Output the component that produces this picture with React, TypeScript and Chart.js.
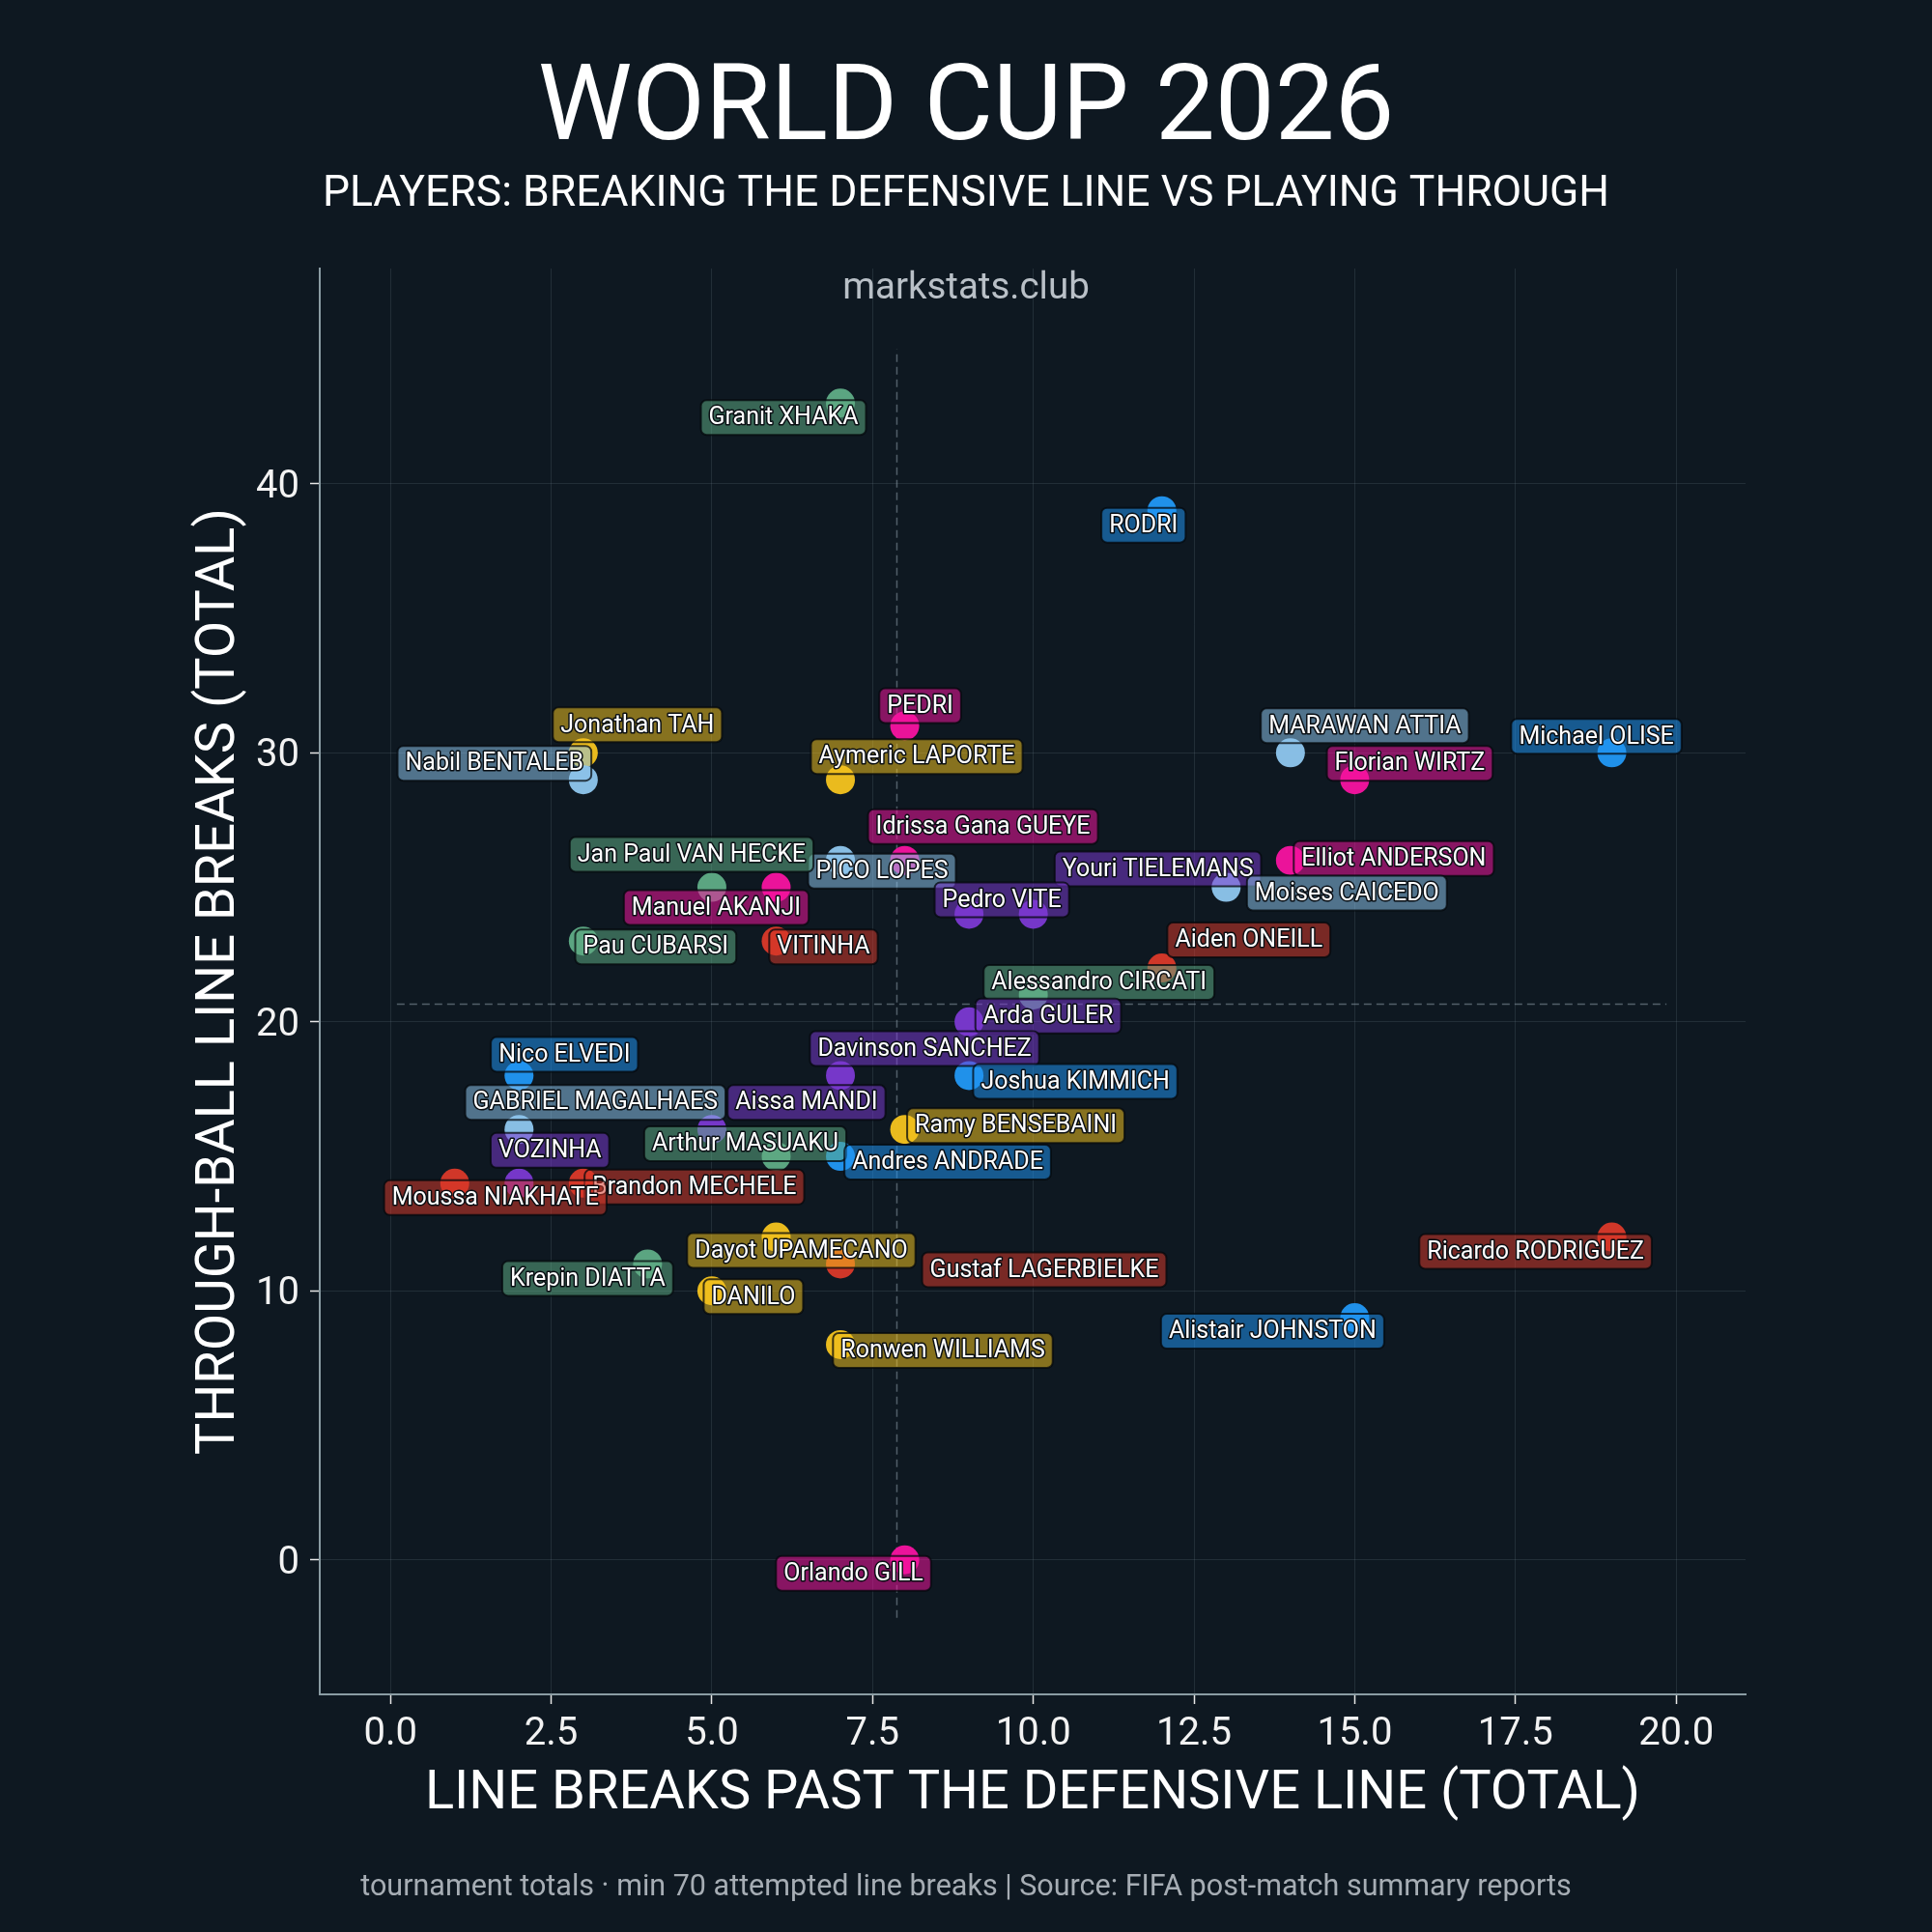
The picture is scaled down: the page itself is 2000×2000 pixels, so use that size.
import React, { useEffect, useRef } from 'react';
import { Chart, registerables } from 'chart.js';

Chart.register(...registerables);

// ---------------- DATA ----------------
const PLAYERS = [
  'Granit XHAKA', 'RODRI', 'PEDRI', 'Jonathan TAH', 'Nabil BENTALEB', 'Aymeric LAPORTE',
  'MARAWAN ATTIA', 'Florian WIRTZ', 'Michael OLISE', 'Idrissa Gana GUEYE', 'PICO LOPES',
  'Jan Paul VAN HECKE', 'Manuel AKANJI', 'Youri TIELEMANS', 'Pedro VITE', 'Elliot ANDERSON',
  'Moises CAICEDO', 'Pau CUBARSI', 'VITINHA', 'Aiden ONEILL', 'Alessandro CIRCATI',
  'Arda GULER', 'Davinson SANCHEZ', 'Joshua KIMMICH', 'Nico ELVEDI', 'GABRIEL MAGALHAES',
  'Aissa MANDI', 'Ramy BENSEBAINI', 'Arthur MASUAKU', 'Andres ANDRADE', 'VOZINHA',
  'Brandon MECHELE', 'Moussa NIAKHATE', 'Dayot UPAMECANO', 'Gustaf LAGERBIELKE',
  'Krepin DIATTA', 'DANILO', 'Ronwen WILLIAMS', 'Ricardo RODRIGUEZ', 'Alistair JOHNSTON',
  'Orlando GILL',
];

// line breaks past the defensive line (x)
const LINE_BREAKS = [
  7, 12, 8, 3, 3, 7, 14, 15, 19, 8, 7, 5, 6, 10, 9, 14, 13, 3, 6, 12, 10,
  9, 7, 9, 2, 2, 5, 8, 6, 7, 2, 3, 1, 6, 7, 4, 5, 7, 19, 15, 8,
];

// through-ball line breaks (y)
const THROUGH_BALL = [
  43, 39, 31, 30, 29, 29, 30, 29, 30, 26, 26, 25, 25, 24, 24, 26, 25, 23, 23, 22, 21,
  20, 18, 18, 18, 16, 16, 16, 15, 15, 14, 14, 14, 12, 11, 11, 10, 8, 12, 9, 0,
];

const GROUP = [
  'green', 'blue', 'pink', 'yellow', 'lightblue', 'yellow', 'lightblue', 'pink', 'blue', 'pink',
  'lightblue', 'green', 'pink', 'purple', 'purple', 'pink', 'lightblue', 'green', 'red', 'red',
  'green', 'purple', 'purple', 'blue', 'blue', 'lightblue', 'purple', 'yellow', 'green', 'blue',
  'purple', 'red', 'red', 'yellow', 'red', 'green', 'yellow', 'yellow', 'red', 'blue', 'pink',
];

const X_TICKS = [0, 2.5, 5, 7.5, 10, 12.5, 15, 17.5, 20];
const Y_TICKS = [0, 10, 20, 30, 40];

// extents of the mean reference lines (data units)
const V_LINE_Y = [-2.15, 45];
const H_LINE_X = [0.1, 19.85];

// ---------------- LAYOUT / STYLE ----------------
const PALETTE: Record<string, string> = {
  blue: '#2196f3',
  lightblue: '#8ec5ec',
  pink: '#f5139f',
  yellow: '#f4c21e',
  green: '#5fab85',
  red: '#d9382a',
  purple: '#7b38d0',
};

// label box centre offsets from the marker (px)
const LABEL_OFFSETS: [number, number][] = [
  [-59, 15], [-19, 15], [16, -21], [56, -29], [-92, -17], [79, -24],
  [77, -28], [57, -17], [-16, -17], [81, -35], [43, 11],
  [-21, -34], [-62, 21], [129, -47], [34, -15], [107, -2],
  [125, 6], [75, 6], [49, 6], [90, -29], [68, -13],
  [82, -6], [87, -28], [110, 6], [47, -22], [79, -28],
  [98, -28], [115, -4], [-32, -13], [111, 6], [32, -34],
  [115, 4], [42, 15], [26, 14], [211, 6],
  [-62, 15], [43, 6], [106, 6], [-79, 15], [-85, 14],
  [-53, 14],
];

const BG = '#0e1821';
const FONT = 'Roboto';

function rgba(hex: string, a: number) {
  const n = parseInt(hex.slice(1), 16);
  return `rgba(${(n >> 16) & 255},${(n >> 8) & 255},${n & 255},${a})`;
}

const mean = (arr: number[]) => arr.reduce((s, v) => s + v, 0) / arr.length;

const decorPlugin = {
  id: 'decor',
  beforeDatasetsDraw(chart: any) {
    const ctx = chart.ctx;
    ctx.save();
    ctx.fillStyle = '#b9c0c7';
    ctx.font = `38.5px ${FONT}`;
    ctx.textAlign = 'center';
    ctx.textBaseline = 'alphabetic';
    ctx.fillText('markstats.club', 1000, 309);
    ctx.restore();
  },
  afterDatasetsDraw(chart: any) {
    const ctx = chart.ctx;
    const meta = chart.getDatasetMeta(0);
    ctx.save();
    ctx.font = `25px ${FONT}`;
    ctx.textAlign = 'center';
    ctx.textBaseline = 'middle';
    PLAYERS.forEach((name, i) => {
      const el = meta.data[i];
      if (!el) return;
      const cx = el.x + LABEL_OFFSETS[i][0];
      const cy = el.y + LABEL_OFFSETS[i][1];
      const tw = ctx.measureText(name).width;
      const w = tw + 16;
      const h = 36;
      const color = PALETTE[GROUP[i]];
      ctx.beginPath();
      ctx.roundRect(cx - w / 2, cy - h / 2, w, h, 6);
      ctx.fillStyle = rgba(color, 0.53);
      ctx.fill();
      ctx.lineWidth = 2;
      ctx.strokeStyle = 'rgba(4,8,12,0.75)';
      ctx.stroke();
      ctx.lineJoin = 'round';
      ctx.lineWidth = 3;
      ctx.strokeStyle = '#0a0f14';
      ctx.strokeText(name, cx, cy + 1);
      ctx.fillStyle = '#ffffff';
      ctx.fillText(name, cx, cy + 1);
    });
    ctx.restore();
  },
  afterDraw(chart: any) {
    const ctx = chart.ctx;
    ctx.save();
    ctx.textAlign = 'center';
    ctx.textBaseline = 'alphabetic';
    ctx.fillStyle = '#ffffff';
    ctx.font = `110px ${FONT}`;
    ctx.fillText('WORLD CUP 2026', 1000, 144);
    ctx.font = `44.5px ${FONT}`;
    ctx.fillText('PLAYERS: BREAKING THE DEFENSIVE LINE VS PLAYING THROUGH', 1000, 213);

    const area = chart.chartArea;
    ctx.font = `56px ${FONT}`;
    ctx.fillText('LINE BREAKS PAST THE DEFENSIVE LINE (TOTAL)', (area.left + area.right) / 2, 1872);
    ctx.save();
    ctx.translate(242, (area.top + area.bottom) / 2);
    ctx.rotate(-Math.PI / 2);
    ctx.fillText('THROUGH-BALL LINE BREAKS (TOTAL)', 0, 0);
    ctx.restore();

    ctx.fillStyle = '#a6adb4';
    ctx.font = `30.5px ${FONT}`;
    ctx.fillText(
      'tournament totals · min 70 attempted line breaks | Source: FIFA post-match summary reports',
      1000,
      1962
    );
    ctx.restore();
  },
};

export default function App() {
  const ref = useRef<HTMLCanvasElement>(null);

  useEffect(() => {
    document.body.style.margin = '0';
    document.body.style.background = BG;
    if (!ref.current) return;

    const meanX = mean(LINE_BREAKS);
    const meanY = mean(THROUGH_BALL);

    const points = PLAYERS.map((_, i) => ({ x: LINE_BREAKS[i], y: THROUGH_BALL[i] }));
    const colors = GROUP.map((g) => rgba(PALETTE[g], 0.96));

    const gridCommon = {
      color: 'rgba(140,160,172,0.16)',
      lineWidth: 1,
      tickColor: '#e6e6e6',
      tickLength: 10,
      tickWidth: 1.5,
    };

    const chart = new Chart(ref.current, {
      type: 'scatter',
      data: {
        datasets: [
          {
            data: points,
            backgroundColor: colors,
            borderWidth: 0,
            pointRadius: 15,
            pointHoverRadius: 15,
            order: 0,
          },
          {
            data: [
              { x: meanX, y: V_LINE_Y[0] },
              { x: meanX, y: V_LINE_Y[1] },
            ],
            showLine: true,
            borderColor: 'rgba(150,165,178,0.5)',
            borderWidth: 1.5,
            borderDash: [8, 5],
            pointRadius: 0,
            order: 5,
          },
          {
            data: [
              { x: H_LINE_X[0], y: meanY },
              { x: H_LINE_X[1], y: meanY },
            ],
            showLine: true,
            borderColor: 'rgba(150,165,178,0.5)',
            borderWidth: 1.5,
            borderDash: [8, 5],
            pointRadius: 0,
            order: 5,
          },
        ],
      } as any,
      options: {
        responsive: false,
        animation: false,
        devicePixelRatio: 1,
        layout: { padding: { left: 0, right: 193, top: 278, bottom: 0 } },
        plugins: {
          legend: { display: false },
          tooltip: { enabled: false },
        },
        events: [],
        scales: {
          x: {
            type: 'linear',
            min: -1.1,
            max: 21.08,
            afterBuildTicks: (s: any) => {
              s.ticks = X_TICKS.map((v) => ({ value: v }));
            },
            afterFit: (s: any) => {
              s.height = 246;
            },
            ticks: {
              color: '#f2f2f2',
              font: { family: FONT, size: 40 },
              padding: 8,
              autoSkip: false,
              maxRotation: 0,
              callback: (v: any) => Number(v).toFixed(1),
            },
            grid: gridCommon,
            border: { color: '#8a9ca3', width: 2 },
          },
          y: {
            type: 'linear',
            min: -5,
            max: 48,
            afterBuildTicks: (s: any) => {
              s.ticks = Y_TICKS.map((v) => ({ value: v }));
            },
            afterFit: (s: any) => {
              s.width = 331;
            },
            ticks: {
              color: '#f2f2f2',
              font: { family: FONT, size: 40 },
              padding: 11,
              labelOffset: 4,
              autoSkip: false,
              callback: (v: any) => String(v),
            },
            grid: gridCommon,
            border: { color: '#8a9ca3', width: 2 },
          },
        },
      } as any,
      plugins: [decorPlugin],
    });

    return () => chart.destroy();
  }, []);

  return (
    <div
      style={{
        position: 'absolute',
        left: 0,
        top: 0,
        width: 2000,
        height: 2000,
        background: BG,
      }}
    >
      <canvas ref={ref} width={2000} height={2000} style={{ width: 2000, height: 2000, display: 'block' }} />
    </div>
  );
}
